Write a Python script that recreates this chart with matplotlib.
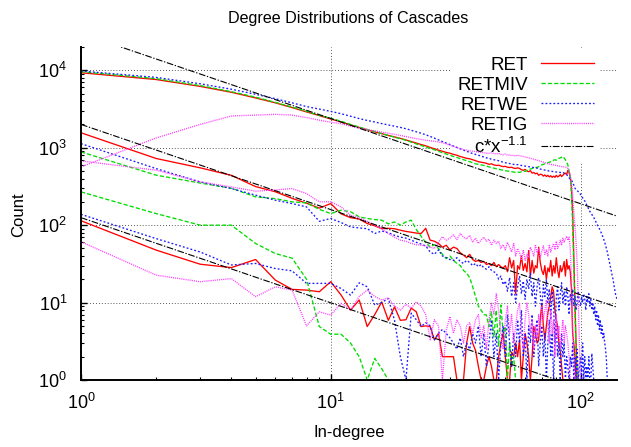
import numpy as np
import matplotlib
matplotlib.use('Agg')
import matplotlib.pyplot as plt
from matplotlib.ticker import LogLocator, NullFormatter

plt.rcParams['font.family'] = ['Liberation Sans', 'DejaVu Sans']
plt.rcParams['mathtext.fontset'] = 'custom'
plt.rcParams['mathtext.rm'] = 'Liberation Sans'
plt.rcParams['mathtext.it'] = 'Liberation Sans:italic'
plt.rcParams['mathtext.bf'] = 'Liberation Sans:bold'

# ---------------- data (count per in-degree, degree = 1, 2, 3, ...) ----------------
ret_a = [9300, 7600, 6200, 5200, 4400, 3800, 3300, 2900, 2600, 2350,
         2150, 1980, 1830, 1700, 1600, 1520, 1440, 1380, 1320, 1260,
         1200, 1150, 1100, 1060, 1010, 970, 930, 900, 870, 850,
         820, 800, 770, 750, 730, 720, 700, 680, 660, 650,
         640, 630, 610, 620, 600, 590, 595, 580, 570, 575,
         560, 555, 560, 545, 540, 550, 540, 520, 510, 525,
         500, 490, 505, 470, 480, 460, 470, 440, 455, 450,
         430, 445, 425, 440, 420, 435, 415, 430, 415, 440,
         420, 430, 450, 425, 440, 460, 470, 450, 510, 480,
         420, 300, 150, 40, 10, 3, 1]
ret_b = [1560, 726, 550, 440, 315, 270, 222, 192, 166, 190,
         140, 125, 120, 105, 98, 90, 91, 90, 86, 83,
         81, 79, 78, 91, 64, 62, 58, 52, 55, 48,
         52, 50, 44, 41, 38, 42, 36, 34, 35, 33,
         34, 31, 32, 30, 33, 29, 31, 29, 28, 30,
         25, 38, 28, 35, 13, 30, 27, 40, 26, 32,
         25, 47, 22, 35, 24, 30, 28, 52, 33, 26,
         23, 30, 20, 28, 25, 35, 22, 30, 24, 38,
         26, 21, 30, 25, 28, 34, 22, 36, 27, 30,
         25, 15, 4, 3, 2, 1]
ret_c = [114, 47.6, 31.3, 28.3, 36, 19.5, 14.8, 14.5, 13.8, 18.6,
         12.5, 8, 10.8, 4.9, 7, 10.2, 5.9, 8.8, 5.9, 6,
         8.5, 7.6, 4.9, 5, 4.9, 3.3, 4, 2, 2, 2,
         2, 1, 1, 1, 3, 4.9, 3, 2.4, 1.5, 1,
         1, 1.5, 2, 1.5, 1, 1, 2, 3, 4, 2,
         1, 1, 2.3, 2, 3, 2, 3.3, 1, 2, 4,
         3, 2, 1, 2, 4.9, 4, 3, 3.3, 6, 9.8,
         5, 3.3, 5, 7.3, 9, 12, 16, 14, 8, 6,
         4.9, 3, 2.3, 1.5, 1]

retmiv_a = [9600, 7800, 6350, 5300, 4500, 3850, 3350, 2950, 2620, 2400,
            2200, 2000, 1850, 1720, 1620, 1520, 1440, 1370, 1310, 1250,
            1180, 1120, 1070, 1020, 980, 940, 900, 860, 830, 800,
            770, 750, 720, 700, 680, 660, 640, 620, 610, 600,
            590, 580, 565, 555, 545, 535, 530, 520, 510, 505,
            500, 495, 490, 485, 480, 485, 480, 490, 500, 495,
            510, 520, 530, 540, 550, 560, 555, 570, 590, 600,
            610, 620, 630, 640, 650, 660, 670, 690, 700, 690,
            710, 730, 740, 755, 720, 740, 700, 650, 600, 500,
            420, 250, 100, 30, 8, 2, 1]
retmiv_b = [883, 442, 350, 300, 232, 220, 200, 194, 160, 141,
            156, 149, 128, 122, 118, 116, 104, 110, 100, 110,
            116, 88, 72, 60, 52, 56, 50, 42, 37, 40,
            35, 32, 30, 26, 24, 21, 16, 12, 9, 8,
            7, 6.9, 4.9, 7.6, 3.6, 8, 2.7, 9.3, 4, 4.9,
            1, 3, 1.5, 2, 1]
retmiv_c = [269, 141, 100, 100, 58, 43, 37.5, 20, 4.9, 3.9,
            3.9, 3, 2, 1, 1.9, 1.4, 1]

retwe_a = [9800, 8100, 6700, 5700, 4900, 4300, 3800, 3400, 3150, 2950,
           2750, 2550, 2380, 2250, 2150, 2050, 1970, 1900, 1830, 1760,
           1680, 1610, 1540, 1470, 1400, 1330, 1260, 1200, 1150, 1100,
           1050, 1010, 970, 930, 900, 870, 840, 820, 800, 780,
           760, 740, 730, 710, 700, 690, 680, 665, 650, 640,
           630, 625, 615, 610, 600, 605, 600, 590, 585, 580,
           575, 570, 565, 560, 555, 550, 545, 540, 530, 525,
           520, 515, 510, 505, 500, 500, 495, 490, 490, 485,
           485, 480, 480, 475, 480, 470, 460, 450, 430, 410,
           390, 380, 360, 330, 300, 290, 280, 270, 260, 250,
           240, 225, 215, 205, 195, 180, 170, 160, 150, 145,
           138, 130, 126, 118, 112, 105, 100, 95, 90, 85,
           80, 75, 70, 65, 60, 55, 50, 45, 40, 36,
           32, 28, 25, 22, 20, 17, 15, 13, 12, 11]
retwe_b = [1130, 537, 362, 297, 244, 210, 190, 172, 112, 122,
           108, 95, 92, 90, 78, 84, 80, 74, 70, 68,
           64, 60, 57, 54, 45, 42, 48, 40, 38, 36,
           35, 38, 34, 32, 35, 33, 30, 32, 29, 31,
           28, 27, 29, 26, 25, 24, 20, 22, 17, 19,
           14, 21, 12, 18, 10, 16, 22, 13, 19, 11,
           20, 15, 24, 12, 18, 9, 16, 21, 13, 8,
           17, 12, 20, 10, 15, 6, 14, 9, 3, 12,
           16, 8, 13, 18, 10, 14, 9, 16, 12, 7,
           13, 10, 15, 9, 12, 8, 11, 14, 10, 9,
           12, 10, 13, 11, 8, 12, 10, 13, 9, 11,
           8, 10, 7, 9, 6, 8, 5, 7, 4.5, 6,
           4, 5, 3.5, 4, 3, 2.5, 1.8, 1]
retwe_c = [138, 67, 45, 30.6, 32, 27.5, 25.7, 17.7, 17.7, 17.7,
           15.2, 12.5, 18, 16, 9.3, 10, 11.3, 5.9, 2, 1,
           7.3, 6, 4.9, 5.5, 5, 3.3, 4, 4.5, 4, 3.5,
           3, 2.5, 3.5, 2, 3, 2.5, 4, 3, 5, 2,
           4, 1.5, 3, 6, 2, 4, 1, 3, 5, 2,
           7, 3, 1.5, 4, 2, 6, 3, 8, 2, 4,
           1, 5, 3, 7, 2, 4, 6, 1.5, 3, 5,
           2, 4, 1, 3, 6, 2, 4, 1, 3, 5,
           2, 3, 1, 4, 2, 3, 1, 2, 1.5, 1,
           2, 1.5, 3, 1, 2, 1, 2.5, 1, 1.5, 2,
           1, 3, 1, 2, 1, 1.5, 1, 2, 1, 1,
           2.2, 1.5, 1]

retig_a = [565, 1340, 2000, 2570, 2640, 2700, 2640, 2450, 2270, 2140,
           2040, 1900, 1800, 1720, 1650, 1590, 1540, 1490, 1440, 1390,
           1350, 1310, 1280, 1250, 1230, 1210, 1190, 1160, 1120, 1080,
           1040, 1000, 970, 950, 930, 910, 900, 890, 880, 870,
           860, 850, 845, 860, 840, 830, 850, 820, 810, 830,
           800, 810, 790, 800, 780, 800, 790, 780, 770, 760,
           750, 740, 730, 720, 710, 700, 690, 680, 670, 660,
           650, 640, 630, 620, 615, 610, 605, 600, 595, 590,
           585, 580, 575, 570, 570, 565, 560, 560, 540, 500,
           450, 350, 250, 150, 100, 60, 30, 10, 3, 1]
retig_b = [675, 513, 362, 312, 275, 285, 297, 256, 200, 200,
           172, 134, 125, 112, 100, 90, 78, 70, 64, 62,
           58, 56, 55, 54, 52, 50, 60, 71, 64, 68,
           75, 65, 78, 70, 66, 74, 60, 68, 58, 64,
           70, 62, 66, 55, 64, 58, 62, 50, 56, 48,
           60, 52, 45, 58, 40, 50, 44, 36, 48, 35,
           42, 38, 52, 46, 40, 56, 44, 50, 38, 46,
           54, 42, 48, 40, 56, 45, 52, 58, 48, 62,
           50, 56, 64, 55, 68, 60, 66, 72, 64, 70,
           50, 20, 5, 2, 1]
retig_c = [61, 22.6, 18.6, 20.4, 11.9, 16, 14.5, 5, 7.6, 6.9,
           9.8, 8, 12, 14.5, 12, 10.8, 11.5, 9, 8, 9.5,
           8.5, 10.2, 9, 7, 3.3, 6, 5, 1, 4.4, 6.6,
           4, 6, 5, 3, 5, 5.5, 4, 6, 7, 3.5,
           5, 2.5, 6, 9.8, 7, 13, 8, 4, 2.5, 6,
           9, 4, 7, 3, 5, 8, 9.8, 4, 2.5, 6,
           10, 7, 4, 6, 2.5, 5, 3.5, 7, 4, 9,
           6, 8, 10.8, 5, 3, 8, 4, 6, 2, 7,
           3.5, 5, 2.5, 4, 6, 3, 5, 4, 3, 2,
           1]

fit_c = [30000, 2000, 125]
fit_exponent = -1.1

labels = ['RET', 'RETMIV', 'RETWE', 'RETIG']
groups = [[ret_a, ret_b, ret_c],
          [retmiv_a, retmiv_b, retmiv_c],
          [retwe_a, retwe_b, retwe_c],
          [retig_a, retig_b, retig_c]]
colors = ['#ff0000', '#00dd00', '#1a1aff', '#ff3cff']
styles = ['-', (0, (3.2, 1.6)), (0, (1.4, 1.6)), (0, (0.8, 0.8))]
fit_label = 'c*x$^{-1.1}$'

# ---------------- figure ----------------
fig = plt.figure(figsize=(6.31, 4.47), dpi=100)
ax = fig.add_axes([81 / 631, 1 - 380 / 447, 536 / 631, 333 / 447])
ax.set_xscale('log')
ax.set_yscale('log')

for lab, grp, col, ls in zip(labels, groups, colors, styles):
    for i, vals in enumerate(grp):
        deg = np.arange(1, len(vals) + 1)
        ax.plot(deg, vals, color=col, linestyle=ls, linewidth=0.95,
                label=lab if i == 0 else None, zorder=2, clip_on=True)

xf = np.geomspace(1, 140, 200)
for i, c in enumerate(fit_c):
    ax.plot(xf, c * xf ** fit_exponent, color='black',
            linestyle=(0, (6, 1.5, 1.2, 1.5)), linewidth=0.8,
            label=fit_label if i == 0 else None, zorder=2.5)

ax.set_xlim(1, 140)
ax.set_ylim(1, 2e4)

for s in ['top', 'right']:
    ax.spines[s].set_visible(False)
for s in ['left', 'bottom']:
    ax.spines[s].set_linewidth(1.4)

ax.xaxis.set_major_locator(LogLocator(base=10))
ax.yaxis.set_major_locator(LogLocator(base=10))
ax.xaxis.set_minor_locator(LogLocator(base=10, subs=np.arange(2, 10)))
ax.yaxis.set_minor_locator(LogLocator(base=10, subs=np.arange(2, 10)))
ax.xaxis.set_minor_formatter(NullFormatter())
ax.yaxis.set_minor_formatter(NullFormatter())
ax.tick_params(which='both', direction='in', top=False, right=False, labelsize=13)
ax.tick_params(which='major', length=4, width=1)
ax.tick_params(which='minor', length=2.2, width=0.8)
ax.tick_params(axis='x', which='major', pad=9)
ax.tick_params(axis='y', which='major', pad=10)

ax.set_axisbelow(True)
ax.grid(True, which='major', color='#333333', linestyle=(0, (0.8, 2.2)), linewidth=0.7)

leg = ax.legend(loc='upper right', bbox_to_anchor=(0.969, 0.99), markerfirst=False,
                fontsize=13.5, handlelength=2.83, handletextpad=0.7, labelspacing=0.15,
                borderpad=0.35, borderaxespad=0, frameon=True, fancybox=False,
                framealpha=1.0, facecolor='white', edgecolor='none')
leg.set_zorder(1.5)

fig.text(348 / 631, 1 - 18 / 447, 'Degree Distributions of Cascades',
         ha='center', va='center', fontsize=11.6)
fig.text(349 / 631, 1 - 433 / 447, 'In-degree', ha='center', va='center', fontsize=12)
fig.text(19 / 631, 1 - 215 / 447, 'Count', ha='center', va='center', rotation=90, fontsize=12)

fig.savefig('out.png', dpi=100)
